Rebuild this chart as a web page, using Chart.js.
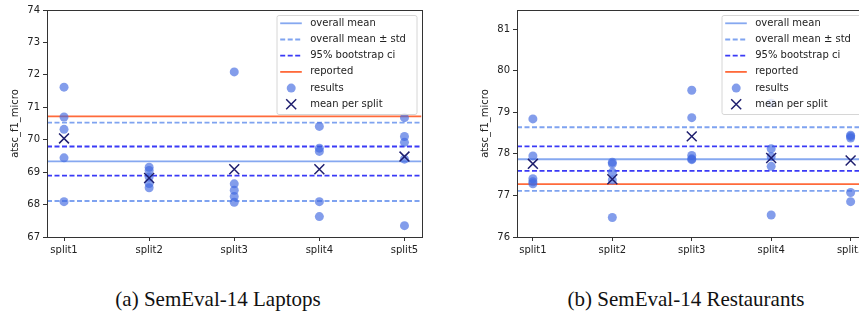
<!DOCTYPE html>
<html>
<head>
<meta charset="utf-8">
<script src="https://cdn.jsdelivr.net/npm/chart.js@4.4.1/dist/chart.umd.min.js"></script>
<style>
  body { margin: 0; width: 859px; height: 320px; overflow: hidden; background: #fff; position: relative; }
  #laptops { position: absolute; left: 0; top: 0; }
  #restaurants { position: absolute; left: 430px; top: 0; }
  .cap { position: absolute; top: 287px; font-family: 'Liberation Serif', 'DejaVu Serif', serif; font-size: 21px; color: #111; white-space: nowrap; transform: translateX(-50%); }
</style>
</head>
<body>
<canvas id="laptops" width="430" height="270"></canvas>
<canvas id="restaurants" width="445" height="270"></canvas>
<div class="cap" style="left:218px">(a) SemEval-14 Laptops</div>
<div class="cap" style="left:686px">(b) SemEval-14 Restaurants</div>
<script>
const splits = ["split1", "split2", "split3", "split4", "split5"];

// SemEval-14 Laptops
const laptopResults = [
  [71.62, 70.70, 70.32, 69.44, 68.09],
  [69.15, 69.05, 68.85, 68.65, 68.52],
  [72.09, 68.64, 68.44, 68.25, 68.07],
  [70.41, 69.74, 69.64, 68.09, 67.63],
  [70.68, 70.10, 69.92, 69.40, 67.35]
];
const laptopMeans = [70.04, 68.82, 69.09, 69.09, 69.48];
const laptopMean = 69.33;
const laptopStd = [68.11, 70.53];
const laptopCi = [68.89, 69.79];
const laptopReported = 70.72;

// SemEval-14 Restaurants
const restResults = [
  [78.84, 77.95, 77.40, 77.33, 77.28],
  [77.80, 77.76, 77.56, 77.37, 76.47],
  [79.53, 78.87, 77.96, 77.88, 77.86],
  [79.22, 78.12, 77.93, 77.70, 76.53],
  [78.45, 78.42, 78.38, 77.07, 76.85]
];
const restMeans = [77.76, 77.39, 78.42, 77.90, 77.84];
const restMean = 77.87;
const restStd = [77.11, 78.64];
const restCi = [77.59, 78.18];
const restReported = 77.27;

const C_MEAN = '#86a8f0';
const C_STD = '#7fa3f0';
const C_CI = '#3a3af6';
const C_REP = '#ff6a3a';
const C_PTS = 'rgba(65,105,225,0.65)';
const C_X = '#1e1e6e';
const FONT = { family: 'DejaVu Sans', size: 10 };
const LW = 1.8;

const legendItems = [
  { label: 'overall mean', kind: 'line', color: C_MEAN },
  { label: 'overall mean \u00b1 std', kind: 'line', color: C_STD, dash: [5, 2.5] },
  { label: '95% bootstrap ci', kind: 'line', color: C_CI, dash: [5, 2.5] },
  { label: 'reported', kind: 'line', color: C_REP },
  { label: 'results', kind: 'dot', color: C_PTS },
  { label: 'mean per split', kind: 'x', color: C_X }
];

const boxLegend = {
  id: 'boxLegend',
  afterDraw(chart) {
    const a = chart.chartArea, ctx = chart.ctx;
    ctx.save();
    // top/right spines
    ctx.strokeStyle = '#333';
    ctx.lineWidth = 1;
    ctx.strokeRect(Math.round(a.left) + 0.5, Math.round(a.top) + 0.5, Math.round(a.right - a.left), Math.round(a.bottom - a.top));
    const w = 140, h = 99;
    const x0 = a.right - 5 - w, y0 = a.top + 5;
    ctx.beginPath();
    ctx.roundRect(x0 + 0.5, y0 + 0.5, w, h, 2);
    ctx.fillStyle = 'rgba(255,255,255,0.8)';
    ctx.fill();
    ctx.strokeStyle = '#d6d6d6';
    ctx.stroke();
    ctx.font = '10px "DejaVu Sans"';
    ctx.textBaseline = 'middle';
    legendItems.forEach((it, i) => {
      const y = y0 + 8.3 + i * 16.2;
      const hx = x0 + 3.7;
      if (it.kind === 'line') {
        ctx.beginPath();
        ctx.setLineDash(it.dash || []);
        ctx.strokeStyle = it.color;
        ctx.lineWidth = LW;
        ctx.moveTo(hx, y);
        ctx.lineTo(hx + 21.6, y);
        ctx.stroke();
        ctx.setLineDash([]);
      } else if (it.kind === 'dot') {
        ctx.beginPath();
        ctx.fillStyle = it.color;
        ctx.arc(hx + 11, y, 4.5, 0, Math.PI * 2);
        ctx.fill();
      } else {
        ctx.beginPath();
        ctx.strokeStyle = it.color;
        ctx.lineWidth = 1.5;
        ctx.moveTo(hx + 6, y - 5); ctx.lineTo(hx + 16, y + 5);
        ctx.moveTo(hx + 16, y - 5); ctx.lineTo(hx + 6, y + 5);
        ctx.stroke();
      }
      ctx.fillStyle = '#222';
      ctx.fillText(it.label, x0 + 33.7, y);
    });
    ctx.restore();
  }
};

function hline(v) {
  return [{ x: -0.2, y: v }, { x: 4.2, y: v }];
}

function lineSet(v, color, dash, order) {
  return {
    type: 'line', data: hline(v), showLine: true, borderColor: color, borderWidth: LW,
    borderDash: dash || [], pointRadius: 0, fill: false, order: order
  };
}

function makeChart(id, results, means, mean, std, ci, reported, yMin, yMax, padLeft) {
  const pts = [];
  results.forEach((vals, i) => vals.forEach(v => pts.push({ x: i, y: v })));
  return new Chart(document.getElementById(id), {
    type: 'scatter',
    data: {
      datasets: [
        { data: means.map((v, i) => ({ x: i, y: v })), pointStyle: 'crossRot', pointRadius: 7,
          borderColor: C_X, backgroundColor: C_X, borderWidth: 1.5, order: 0 },
        { data: pts, pointRadius: 4.5, backgroundColor: C_PTS, borderWidth: 0, order: 1 },
        lineSet(reported, C_REP, null, 2),
        lineSet(ci[0], C_CI, [5, 2.5], 3),
        lineSet(ci[1], C_CI, [5, 2.5], 3),
        lineSet(mean, C_MEAN, null, 4),
        lineSet(std[0], C_STD, [5, 2.5], 5),
        lineSet(std[1], C_STD, [5, 2.5], 5)
      ]
    },
    options: {
      responsive: false,
      animation: false,
      layout: { padding: { left: padLeft, top: 10, right: 0, bottom: 0 } },
      plugins: { legend: { display: false }, tooltip: { enabled: false } },
      scales: {
        x: {
          type: 'linear', min: -0.2, max: 4.2,
          afterBuildTicks: s => { s.ticks = splits.map((_, i) => ({ value: i })); },
          afterFit: s => { s.height = 33; },
          ticks: { callback: v => splits[v], font: FONT, color: '#222', padding: 3, maxRotation: 0 },
          grid: { drawOnChartArea: false, tickLength: 4, color: '#333' },
          border: { color: '#333' }
        },
        y: {
          min: yMin, max: yMax,
          afterFit: s => { s.width = 47; },
          ticks: { stepSize: 1, includeBounds: false, font: FONT, color: '#222', padding: 3 },
          grid: { drawOnChartArea: false, tickLength: 4, color: '#333' },
          border: { color: '#333' },
          title: { display: true, text: 'atsc_f1_micro', font: FONT, color: '#222', padding: { top: 9, bottom: 0 } }
        }
      }
    },
    plugins: [boxLegend]
  });
}

makeChart('laptops', laptopResults, laptopMeans, laptopMean, laptopStd, laptopCi, laptopReported, 67, 74, 0);
makeChart('restaurants', restResults, restMeans, restMean, restStd, restCi, restReported, 76, 81.46, 40);
</script>
</body>
</html>
